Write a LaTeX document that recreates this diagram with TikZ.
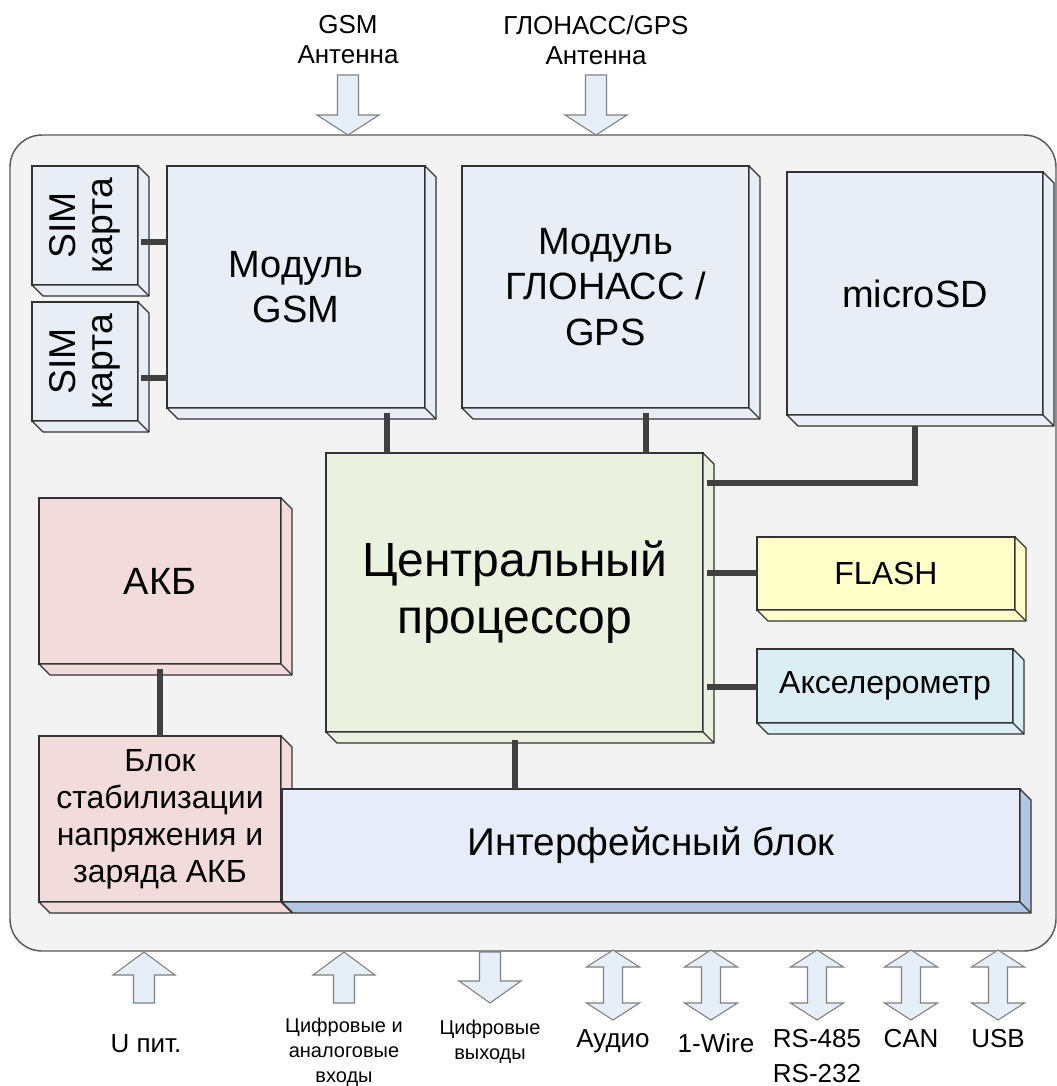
\documentclass[tikz,border=0pt]{standalone}
\usepackage{fontspec}
\setmainfont{Liberation Sans}
\usetikzlibrary{calc,fit}
\definecolor{bgc}{HTML}{F3F3F3}
\definecolor{outline}{HTML}{5A5A5A}
\definecolor{modc}{HTML}{E9EEF6}
\definecolor{cpuc}{HTML}{EAF1DF}
\definecolor{akbc}{HTML}{F2DCDB}
\definecolor{flashc}{HTML}{FFFFC9}
\definecolor{accc}{HTML}{DBEEF4}
\definecolor{ifc}{HTML}{E6EDF8}
\definecolor{ifside}{HTML}{B2C6E3}
\definecolor{arrc}{HTML}{E6EEF8}
\definecolor{conc}{HTML}{404040}
\newcommand\dep{11}
\tikzset{
  boxface/.style={draw=black!80, line width=0.9pt, inner sep=0pt, outer sep=0pt},
  boxedge/.style={draw=black!80, line width=0.9pt, line join=round},
  boxtext/.style={align=center, inner sep=0pt},
  conn/.style={draw=conc, line width=4.5pt},
  blockarrow/.style={draw=black!50, fill=arrc, line width=0.8pt, line join=miter},
  fmod/.style={font=\fontsize{28.5}{34}\selectfont},
  fsim/.style={font=\fontsize{28}{27.5}\selectfont},
  fcpu/.style={font=\fontsize{36}{42.75}\selectfont},
  fblk/.style={font=\fontsize{24}{27.75}\selectfont},
  fsmall/.style={font=\fontsize{24}{28}\selectfont},
  fif/.style={font=\fontsize{29}{33}\selectfont},
  flab/.style={font=\fontsize{19.5}{22.5}\selectfont, align=center},
  flabs/.style={font=\fontsize{15}{18.75}\selectfont, align=center},
}
% 3D box: name, x1, y1, x2, y2, front colour, side colour, font style, text
\newcommand\tdbox[9]{%
  \node[boxface,fill=#6,fit={(#2,#3)(#4,#5)}] (#1) {};
  \filldraw[boxedge,fill=#7] (#1.north east) -- ++(\dep,\dep) -- ($(#1.south east)+(\dep,\dep)$) -- ($(#1.south west)+(\dep,\dep)$) -- (#1.south west) -- (#1.south east) -- cycle;
  \draw[boxedge] (#1.south east) -- ++(\dep,\dep);
  \node[boxtext,#8] (#1-t) at (#1.center) {#9};
}
\newcommand\arrdown[4]{% cx, ytop, yheadbase, ytip
  \filldraw[blockarrow] (#1-10.5,#2) -- (#1+10.5,#2) -- (#1+10.5,#3) -- (#1+31,#3) -- (#1,#4) -- (#1-31,#3) -- (#1-10.5,#3) -- cycle;}
\newcommand\arrup[4]{% cx, ybottom, yheadbase, ytip
  \filldraw[blockarrow] (#1-10.5,#2) -- (#1+10.5,#2) -- (#1+10.5,#3) -- (#1+31,#3) -- (#1,#4) -- (#1-31,#3) -- (#1-10.5,#3) -- cycle;}
\newcommand\arrboth[1]{% cx
  \filldraw[blockarrow] (#1,950) -- (#1+26.5,967) -- (#1+9.5,967) -- (#1+9.5,1003) -- (#1+26.5,1003) -- (#1,1020) -- (#1-26.5,1003) -- (#1-9.5,1003) -- (#1-9.5,967) -- (#1-26.5,967) -- cycle;}
\begin{document}
\begin{tikzpicture}[x=0.75pt,y=-0.75pt]
\useasboundingbox (0,0) rectangle (1057,1086);
\fill[white] (0,0) rectangle (1057,1086);
% housing
\filldraw[fill=bgc, draw=outline, line width=1.1pt, rounded corners=24pt] (10,135) rectangle (1056,951);

% antenna arrows and labels
\arrdown{348}{75}{115}{135}
\arrdown{596}{75}{115}{135}
\node[flab] (gsmant) at (348,40) {GSM\\Антенна};
\node[flab] (gpsant) at (596,40) {ГЛОНАСС/GPS\\Антенна};

% boxes
\tdbox{sim1}{32}{166}{138}{285}{modc}{modc}{fsim,rotate=90}{SIM\\карта}
\tdbox{sim2}{32}{302}{138}{421}{modc}{modc}{fsim,rotate=90}{SIM\\карта}
\tdbox{gsm}{167}{166}{425}{408}{modc}{modc}{fmod}{Модуль\\GSM}
\tdbox{gps}{462}{166}{749}{408}{modc}{modc}{fmod}{Модуль\\ГЛОНАСС /\\GPS}
\tdbox{msd}{787}{172}{1043}{415}{modc}{modc}{fmod}{microSD}
\tdbox{cpu}{326}{453}{703}{732}{cpuc}{cpuc}{fcpu}{Центральный\\процессор}
\tdbox{akb}{39}{498}{281}{664}{akbc}{akbc}{fmod}{АКБ}
\tdbox{flash}{757}{537}{1015}{610}{flashc}{flashc}{fsmall}{FLASH}
\tdbox{acc}{757}{649}{1013}{723}{accc}{accc}{fsmall}{Акселерометр}
\tdbox{stab}{39}{736}{281}{902}{akbc}{akbc}{fblk}{Блок\\стабилизации\\напряжения и\\заряда АКБ}
\tdbox{ifb}{282}{789}{1020}{902}{ifc}{ifside}{fif}{Интерфейсный блок}

% connector helper coordinates
\coordinate (h242) at (0,242);
\coordinate (h378) at (0,378);
\coordinate (h483) at (0,483);
\coordinate (h573) at (0,573);
\coordinate (h687) at (0,687);
\coordinate (v387) at (387,0);
\coordinate (v646) at (646,0);
\coordinate (v160) at (160,0);
\coordinate (v515) at (515,0);
\coordinate (v915) at (915,0);

\draw[conn] ([xshift=2.2pt]sim1.east |- h242) -- (gsm.west |- h242);
\draw[conn] ([xshift=2.2pt]sim2.east |- h378) -- (gsm.west |- h378);
\draw[conn] ([yshift=-4pt]gsm.south -| v387) -- (cpu.north -| v387);
\draw[conn] ([yshift=-4pt]gps.south -| v646) -- (cpu.north -| v646);
\draw[conn] ([xshift=3pt]cpu.east |- h483) -- (v915 |- h483) -- ([yshift=-8.25pt]msd.south -| v915);
\draw[conn] ([xshift=3pt]cpu.east |- h573) -- (flash.west |- h573);
\draw[conn] ([xshift=3pt]cpu.east |- h687) -- (acc.west |- h687);
\draw[conn] ([yshift=-4pt]akb.south -| v160) -- (stab.north -| v160);
\draw[conn] ([yshift=-6pt]cpu.south -| v515) -- (ifb.north -| v515);

% bottom arrows
\arrup{144}{1003}{975}{952}
\arrup{344}{1003}{975}{952}
\arrdown{490}{952}{981}{1003}
\arrboth{613}
\arrboth{711}
\arrboth{817}
\arrboth{911}
\arrboth{998}

% bottom labels
\node[flab] (upit) at (146,1044) {U пит.};
\node[flabs] (din) at (344,1052) {Цифровые и\\аналоговые\\входы};
\node[flabs] (dout) at (490,1042) {Цифровые\\выходы};
\node[flab] (audio) at (613,1041) {Аудио};
\node[flab] (wire) at (716,1043) {1-Wire};
\node[flab, font=\fontsize{19.5}{26.25}\selectfont] (rs) at (817,1056) {RS-485\\RS-232};
\node[flab] (can) at (911,1039) {CAN};
\node[flab] (usb) at (998,1039) {USB};
\end{tikzpicture}
\end{document}
